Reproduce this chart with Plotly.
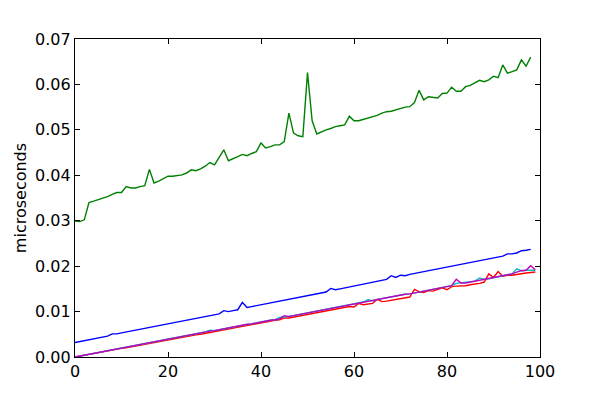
import plotly.graph_objects as go

x_top = list(range(99))
x_low = list(range(100))

green = [0.0299, 0.0298, 0.0302, 0.0340, 0.0343, 0.0346, 0.0350, 0.0353, 0.0358, 0.0362,
         0.0362, 0.0375, 0.0372, 0.0372, 0.0375, 0.0377, 0.0413, 0.0383, 0.0387, 0.0393,
         0.0398, 0.0398, 0.0399, 0.0401, 0.0405, 0.0412, 0.0410, 0.0414, 0.0420, 0.0428,
         0.0423, 0.0440, 0.0456, 0.0432, 0.0436, 0.0441, 0.0446, 0.0443, 0.0448, 0.0452,
         0.0471, 0.0460, 0.0463, 0.0467, 0.0467, 0.0474, 0.0537, 0.0493, 0.0487, 0.0485,
         0.0626, 0.0520, 0.0491, 0.0496, 0.0500, 0.0503, 0.0507, 0.0509, 0.0511, 0.0530,
         0.0520, 0.0520, 0.0523, 0.0527, 0.0529, 0.0532, 0.0537, 0.0540, 0.0541, 0.0544,
         0.0547, 0.0550, 0.0551, 0.0560, 0.0587, 0.0566, 0.0573, 0.0571, 0.0570, 0.0580,
         0.0581, 0.0594, 0.0585, 0.0585, 0.0595, 0.0598, 0.0603, 0.0609, 0.0606, 0.0610,
         0.0618, 0.0615, 0.0643, 0.0625, 0.0628, 0.0632, 0.0654, 0.0640, 0.0660]

blue = [0.0032, 0.0034, 0.0036, 0.0038, 0.0040, 0.0042, 0.0044, 0.0046, 0.0051, 0.0051,
        0.0053, 0.0055, 0.0057, 0.0059, 0.0061, 0.0063, 0.0065, 0.0067, 0.0069, 0.0071,
        0.0073, 0.0075, 0.0077, 0.0079, 0.0081, 0.0083, 0.0085, 0.0087, 0.0089, 0.0091,
        0.0093, 0.0095, 0.0102, 0.0100, 0.0102, 0.0104, 0.0120, 0.0109, 0.0111, 0.0113,
        0.0115, 0.0117, 0.0119, 0.0121, 0.0123, 0.0125, 0.0127, 0.0129, 0.0131, 0.0133,
        0.0135, 0.0137, 0.0139, 0.0141, 0.0143, 0.0151, 0.0148, 0.0150, 0.0152, 0.0154,
        0.0156, 0.0158, 0.0160, 0.0162, 0.0164, 0.0166, 0.0168, 0.0171, 0.0179, 0.0175,
        0.0180, 0.0179, 0.0182, 0.0184, 0.0186, 0.0188, 0.0191, 0.0193, 0.0194, 0.0196,
        0.0198, 0.0200, 0.0202, 0.0204, 0.0206, 0.0208, 0.0210, 0.0212, 0.0214, 0.0216,
        0.0218, 0.0220, 0.0222, 0.0227, 0.0227, 0.0229, 0.0234, 0.0235, 0.0237]

red = [0.0000, 0.0002, 0.0004, 0.0006, 0.0007, 0.0009, 0.0011, 0.0013, 0.0015, 0.0017,
       0.0019, 0.0020, 0.0022, 0.0024, 0.0026, 0.0028, 0.0030, 0.0032, 0.0034, 0.0035,
       0.0037, 0.0039, 0.0041, 0.0043, 0.0045, 0.0047, 0.0049, 0.0050, 0.0052, 0.0054,
       0.0056, 0.0058, 0.0060, 0.0062, 0.0064, 0.0066, 0.0068, 0.0069, 0.0071, 0.0073,
       0.0075, 0.0077, 0.0079, 0.0081, 0.0082, 0.0086, 0.0086, 0.0088, 0.0090, 0.0092,
       0.0094, 0.0096, 0.0098, 0.0100, 0.0101, 0.0103, 0.0105, 0.0107, 0.0109, 0.0111,
       0.0110, 0.0118, 0.0115, 0.0117, 0.0118, 0.0127, 0.0122, 0.0123, 0.0125, 0.0127,
       0.0129, 0.0131, 0.0132, 0.0149, 0.0144, 0.0142, 0.0146, 0.0145, 0.0148, 0.0152,
       0.0148, 0.0155, 0.0156, 0.0156, 0.0157, 0.0159, 0.0160, 0.0162, 0.0165, 0.0183,
       0.0175, 0.0188, 0.0178, 0.0180, 0.0180, 0.0182, 0.0184, 0.0185, 0.0186, 0.0187]

cyan = [0.0000, 0.0002, 0.0004, 0.0006, 0.0008, 0.0010, 0.0012, 0.0014, 0.0016, 0.0018,
        0.0019, 0.0021, 0.0023, 0.0025, 0.0027, 0.0029, 0.0031, 0.0033, 0.0035, 0.0037,
        0.0039, 0.0041, 0.0043, 0.0045, 0.0047, 0.0049, 0.0051, 0.0053, 0.0055, 0.0059,
        0.0058, 0.0060, 0.0062, 0.0064, 0.0066, 0.0068, 0.0070, 0.0072, 0.0073, 0.0075,
        0.0078, 0.0080, 0.0081, 0.0082, 0.0087, 0.0088, 0.0089, 0.0091, 0.0093, 0.0095,
        0.0097, 0.0099, 0.0101, 0.0103, 0.0105, 0.0107, 0.0109, 0.0111, 0.0113, 0.0115,
        0.0117, 0.0119, 0.0121, 0.0126, 0.0124, 0.0127, 0.0129, 0.0131, 0.0133, 0.0135,
        0.0137, 0.0138, 0.0139, 0.0141, 0.0143, 0.0145, 0.0147, 0.0149, 0.0151, 0.0153,
        0.0155, 0.0157, 0.0162, 0.0163, 0.0164, 0.0165, 0.0167, 0.0174, 0.0171, 0.0172,
        0.0174, 0.0176, 0.0178, 0.0180, 0.0183, 0.0194, 0.0190, 0.0191, 0.0191, 0.0191]

magenta = [0.0000, 0.0002, 0.0004, 0.0006, 0.0008, 0.0010, 0.0012, 0.0014, 0.0016, 0.0018,
           0.0019, 0.0021, 0.0023, 0.0025, 0.0027, 0.0029, 0.0031, 0.0033, 0.0035, 0.0037,
           0.0039, 0.0041, 0.0043, 0.0045, 0.0047, 0.0049, 0.0051, 0.0053, 0.0055, 0.0057,
           0.0058, 0.0060, 0.0062, 0.0064, 0.0066, 0.0069, 0.0071, 0.0072, 0.0073, 0.0075,
           0.0078, 0.0080, 0.0081, 0.0082, 0.0084, 0.0091, 0.0089, 0.0091, 0.0093, 0.0095,
           0.0097, 0.0099, 0.0101, 0.0103, 0.0105, 0.0107, 0.0109, 0.0111, 0.0113, 0.0115,
           0.0117, 0.0119, 0.0121, 0.0123, 0.0125, 0.0127, 0.0129, 0.0131, 0.0133, 0.0135,
           0.0137, 0.0138, 0.0139, 0.0141, 0.0143, 0.0145, 0.0147, 0.0149, 0.0151, 0.0153,
           0.0155, 0.0157, 0.0171, 0.0163, 0.0163, 0.0165, 0.0167, 0.0169, 0.0171, 0.0172,
           0.0174, 0.0176, 0.0178, 0.0180, 0.0183, 0.0187, 0.0190, 0.0191, 0.0201, 0.0192]

y_ticks = [0.00, 0.01, 0.02, 0.03, 0.04, 0.05, 0.06, 0.07]
x_ticks = [0, 20, 40, 60, 80, 100]

fig = go.Figure()
series = [(x_top, blue, "#0000ff"), (x_top, green, "#008000"), (x_low, red, "#ff0000"),
          (x_low, cyan, "#00bfbf"), (x_low, magenta, "#bf00bf")]
for xs, ys, col in series:
    fig.add_trace(go.Scatter(x=xs, y=ys, mode="lines", line=dict(color=col, width=1.4),
                             showlegend=False, hoverinfo="skip"))

axis_common = dict(showgrid=False, zeroline=False, showline=True, linecolor="black",
                   linewidth=1.3, mirror="allticks", ticks="inside", ticklen=5,
                   tickwidth=1, tickcolor="black",
                   tickfont=dict(family="DejaVu Sans", size=16, color="black"))

fig.update_xaxes(range=[0, 100], tickvals=x_ticks, ticktext=[str(v) for v in x_ticks],
                 **axis_common)
fig.update_yaxes(range=[0, 0.07], tickvals=y_ticks, ticktext=[f"{v:.2f}" for v in y_ticks],
                 **axis_common)

fig.add_annotation(text="microseconds", textangle=-90, xref="paper", yref="paper",
                   x=-0.118, y=0.5, xanchor="center", yanchor="middle", showarrow=False,
                   font=dict(family="DejaVu Sans", size=16, color="black"))

fig.update_layout(width=600, height=397, margin=dict(l=67, r=68, t=31, b=48),
                  plot_bgcolor="white", paper_bgcolor="white")

fig.write_html("out.html")
